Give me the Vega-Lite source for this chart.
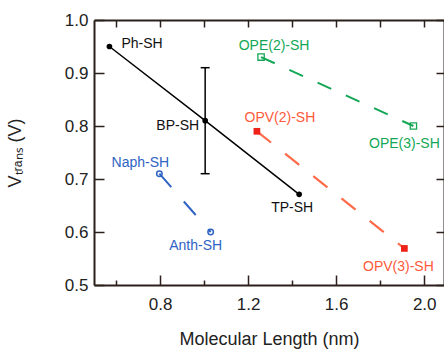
{
  "$schema": "https://vega.github.io/schema/vega-lite/v6.json",
  "width": 350,
  "height": 265,
  "autosize": {"type": "none"},
  "padding": {"left": 94, "top": 20, "right": 0, "bottom": 66},
  "background": "white",
  "config": {
    "view": {"stroke": null},
    "font": "Liberation Sans",
    "axis": {
      "domainColor": "#2b201b",
      "domainWidth": 2,
      "tickColor": "#2b201b",
      "tickWidth": 1.5,
      "grid": false,
      "labelFont": "Liberation Sans",
      "labelFontSize": 17,
      "labelColor": "#222222",
      "titleFont": "Liberation Sans",
      "titleFontSize": 18,
      "titleFontWeight": "normal",
      "titleColor": "#222222"
    }
  },
  "datasets": {
    "points": [
      {"molecule": "Ph-SH", "series": "Ph", "length": 0.57, "vtrans": 0.95},
      {"molecule": "BP-SH", "series": "Ph", "length": 1.005, "vtrans": 0.81},
      {"molecule": "TP-SH", "series": "Ph", "length": 1.432, "vtrans": 0.671},
      {"molecule": "Naph-SH", "series": "Acene", "length": 0.797, "vtrans": 0.71},
      {"molecule": "Anth-SH", "series": "Acene", "length": 1.03, "vtrans": 0.6},
      {"molecule": "OPE(2)-SH", "series": "OPE", "length": 1.259, "vtrans": 0.93},
      {"molecule": "OPE(3)-SH", "series": "OPE", "length": 1.951, "vtrans": 0.8},
      {"molecule": "OPV(2)-SH", "series": "OPV", "length": 1.24, "vtrans": 0.79},
      {"molecule": "OPV(3)-SH", "series": "OPV", "length": 1.91, "vtrans": 0.569}
    ],
    "errors": [
      {"molecule": "BP-SH", "length": 1.005, "lo": 0.71, "hi": 0.91}
    ]
  },
  "data": {"name": "points"},
  "encoding": {
    "x": {"field": "length", "type": "quantitative", "scale": {"domain": [0.5, 2.09], "nice": false, "zero": false}, "axis": null},
    "y": {"field": "vtrans", "type": "quantitative", "scale": {"domain": [0.5, 1.0], "nice": false, "zero": false}, "axis": null}
  },
  "layer": [
    {
      "transform": [{"filter": "datum.series == 'Ph'"}],
      "mark": {"type": "line", "color": "#000000", "strokeWidth": 1.5},
      "encoding": {
        "x": {"field": "length", "type": "quantitative", "title": "Molecular Length (nm)",
          "axis": {"orient": "bottom", "values": [0.6, 0.8, 1.0, 1.2, 1.4, 1.6, 1.8, 2.0], "format": ".1f",
            "labelExpr": "round(datum.value*10)%4==0 ? datum.label : ''",
            "tickSize": {"condition": {"test": "round(datum.value*10)%4==0", "value": -10}, "value": -5},
            "labelPadding": 21, "titlePadding": 18}},
        "y": {"field": "vtrans", "type": "quantitative", "title": "Vₜᵣₐₙₛ (V)",
          "axis": {"orient": "left", "values": [0.5, 0.6, 0.7, 0.8, 0.9, 1.0], "format": ".1f", "tickSize": -10, "labelPadding": 16, "titlePadding": 40}}
      }
    },
    {
      "transform": [{"filter": "datum.series == 'Ph'"}],
      "mark": {"type": "point", "filled": true, "color": "#000000", "size": 32, "opacity": 1},
      "encoding": {
        "x": {"field": "length", "type": "quantitative", "title": null,
          "axis": {"orient": "top", "values": [0.6, 0.8, 1.0, 1.2, 1.4, 1.6, 1.8, 2.0], "labels": false, "tickSize": -7}},
        "y": {"field": "vtrans", "type": "quantitative", "title": null,
          "axis": {"orient": "right", "values": [0.5, 0.6, 0.7, 0.8, 0.9, 1.0], "labels": false, "tickSize": -8}}
      }
    },
    {
      "data": {"name": "errors"},
      "mark": {"type": "rule", "color": "#000000", "strokeWidth": 1.5},
      "encoding": {
        "y": {"field": "lo", "type": "quantitative", "axis": null},
        "y2": {"field": "hi"}
      }
    },
    {
      "data": {"name": "errors"},
      "mark": {"type": "tick", "orient": "horizontal", "color": "#000000", "size": 9, "thickness": 1.5, "opacity": 1},
      "encoding": {"y": {"field": "hi", "type": "quantitative", "axis": null}}
    },
    {
      "data": {"name": "errors"},
      "mark": {"type": "tick", "orient": "horizontal", "color": "#000000", "size": 9, "thickness": 1.5, "opacity": 1},
      "encoding": {"y": {"field": "lo", "type": "quantitative", "axis": null}}
    },
    {
      "transform": [{"filter": "datum.series == 'Acene'"}],
      "mark": {"type": "line", "color": "#2f63c4", "strokeWidth": 2, "strokeDash": [18, 19]}
    },
    {
      "transform": [{"filter": "datum.series == 'Acene'"}],
      "mark": {"type": "point", "shape": "circle", "filled": false, "color": "#2f63c4", "size": 30, "strokeWidth": 1.5, "opacity": 1}
    },
    {
      "transform": [{"filter": "datum.series == 'OPE'"}],
      "mark": {"type": "line", "color": "#13a755", "strokeWidth": 2, "strokeDash": [15, 16]}
    },
    {
      "transform": [{"filter": "datum.series == 'OPE'"}],
      "mark": {"type": "point", "shape": "square", "filled": false, "color": "#13a755", "size": 40, "strokeWidth": 1.3, "opacity": 1}
    },
    {
      "transform": [{"filter": "datum.series == 'OPV'"}],
      "mark": {"type": "line", "color": "#ff6a48", "strokeWidth": 2.2, "strokeDash": [18, 18]}
    },
    {
      "transform": [{"filter": "datum.series == 'OPV'"}],
      "mark": {"type": "point", "shape": "square", "filled": true, "color": "#ee2218", "size": 45, "opacity": 1}
    },
    {
      "transform": [{"filter": "datum.molecule == 'Ph-SH'"}],
      "mark": {"type": "text", "align": "left", "baseline": "middle", "dx": 12, "dy": -3, "fontSize": 14, "color": "#111111"},
      "encoding": {"text": {"field": "molecule"}}
    },
    {
      "transform": [{"filter": "datum.molecule == 'BP-SH'"}],
      "mark": {"type": "text", "align": "right", "baseline": "middle", "dx": -6, "dy": 5, "fontSize": 14, "color": "#111111"},
      "encoding": {"text": {"field": "molecule"}}
    },
    {
      "transform": [{"filter": "datum.molecule == 'TP-SH'"}],
      "mark": {"type": "text", "align": "center", "baseline": "middle", "dx": -7, "dy": 14, "fontSize": 14, "color": "#111111"},
      "encoding": {"text": {"field": "molecule"}}
    },
    {
      "transform": [{"filter": "datum.molecule == 'Naph-SH'"}],
      "mark": {"type": "text", "align": "center", "baseline": "middle", "dx": -19, "dy": -11, "fontSize": 14, "color": "#2f63c4"},
      "encoding": {"text": {"field": "molecule"}}
    },
    {
      "transform": [{"filter": "datum.molecule == 'Anth-SH'"}],
      "mark": {"type": "text", "align": "center", "baseline": "middle", "dx": -15, "dy": 14, "fontSize": 14, "color": "#2f63c4"},
      "encoding": {"text": {"field": "molecule"}}
    },
    {
      "transform": [{"filter": "datum.molecule == 'OPE(2)-SH'"}],
      "mark": {"type": "text", "align": "center", "baseline": "middle", "dx": 13, "dy": -11, "fontSize": 14, "color": "#13a755"},
      "encoding": {"text": {"field": "molecule"}}
    },
    {
      "transform": [{"filter": "datum.molecule == 'OPE(3)-SH'"}],
      "mark": {"type": "text", "align": "center", "baseline": "middle", "dx": -9, "dy": 18, "fontSize": 14, "color": "#13a755"},
      "encoding": {"text": {"field": "molecule"}}
    },
    {
      "transform": [{"filter": "datum.molecule == 'OPV(2)-SH'"}],
      "mark": {"type": "text", "align": "center", "baseline": "middle", "dx": 23, "dy": -13, "fontSize": 14, "color": "#ff5a3a"},
      "encoding": {"text": {"field": "molecule"}}
    },
    {
      "transform": [{"filter": "datum.molecule == 'OPV(3)-SH'"}],
      "mark": {"type": "text", "align": "center", "baseline": "middle", "dx": -6, "dy": 19, "fontSize": 14, "color": "#ff5a3a"},
      "encoding": {"text": {"field": "molecule"}}
    }
  ],
  "resolve": {"axis": {"x": "independent", "y": "independent"}}
}
